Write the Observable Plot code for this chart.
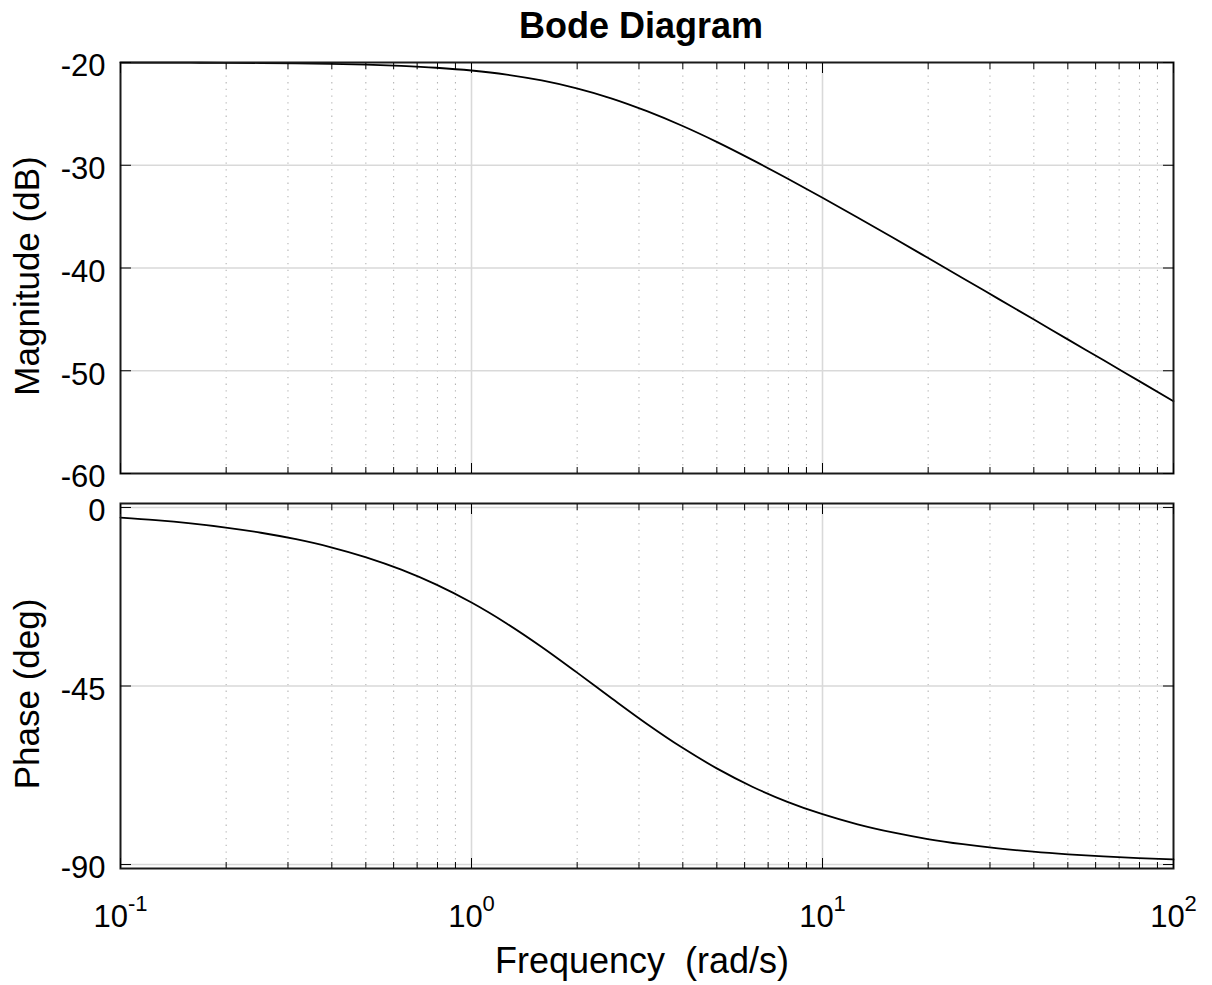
<!DOCTYPE html>
<html>
<head>
<meta charset="utf-8">
<script src="https://cdn.jsdelivr.net/npm/d3@7"></script>
<script src="https://cdn.jsdelivr.net/npm/@observablehq/plot@0.6"></script>
<style>
  html, body { margin: 0; padding: 0; background: #fff; }
  #chart { position: relative; width: 1212px; height: 985px; font-family: "Liberation Sans", Arial, sans-serif; }
  #chart svg { position: absolute; left: 0; overflow: visible; }
  #title { position: absolute; top: 8px; left: 441px; width: 400px; text-align: center;
           font-weight: bold; font-size: 36px; line-height: 36px; color: #000; }
  g[aria-label="y-axis label"] text { font-size: 35px; white-space: pre; }
  g[aria-label="x-axis label"] text { font-size: 36px; white-space: pre; }
</style>
</head>
<body>
<div id="chart">
  <div id="title">Bode Diagram</div>
</div>
<script>
// Frequency (rad/s) and the readings of both curves
const freq = [0.1, 0.1259, 0.1585, 0.1995, 0.2512, 0.3162, 0.3981, 0.5012, 0.631, 0.7943,
              1, 1.259, 1.585, 1.995, 2.512, 3.162, 3.981, 5.012, 6.31, 7.943,
              10, 12.59, 15.85, 19.95, 25.12, 31.62, 39.81, 50.12, 63.1, 79.43, 100];
const magnitudeDb = [-20.01, -20.01, -20.02, -20.03, -20.05, -20.08, -20.13, -20.21, -20.33, -20.51,
                     -20.78, -21.18, -21.75, -22.52, -23.51, -24.74, -26.16, -27.75, -29.48, -31.29,
                     -33.17, -35.09, -37.04, -39.01, -40.99, -42.98, -44.97, -46.97, -48.96, -50.96, -52.96];
const phaseDeg = [-2.55, -3.2, -4.03, -5.07, -6.37, -8.0, -10.03, -12.56, -15.67, -19.45,
                  -23.96, -29.23, -35.16, -41.57, -48.15, -54.57, -60.53, -65.82, -70.38, -74.19,
                  -77.32, -79.87, -81.92, -83.57, -84.88, -85.93, -86.77, -87.43, -87.96, -88.38, -88.71];

// Tick values
const decadeTicks = [0.1, 1, 10, 100];
const innerDecades = [1, 10];
const minorTicks = [0.2, 0.3, 0.4, 0.5, 0.6, 0.7, 0.8, 0.9, 2, 3, 4, 5, 6, 7, 8, 9, 20, 30, 40, 50, 60, 70, 80, 90];
const magTicks = [-60, -50, -40, -30, -20];
const magGrid = [-50, -40, -30];
const phaseTicks = [-90, -45, 0];

const data = freq.map((f, i) => ({f, mag: magnitudeDb[i], phase: phaseDeg[i]}));

const style = {fontFamily: "'Liberation Sans', Arial, sans-serif", fontSize: "31px", color: "#000", background: "transparent", overflow: "visible"};
const gridMinor = {stroke: "#b4b4b4", strokeOpacity: 1, strokeWidth: 1.1, strokeDasharray: "1.3,5.4"};
const gridMajor = {stroke: "#d9d9d9", strokeOpacity: 1, strokeWidth: 1.6};

function xTickMarks() {
  return [
    Plot.axisX({anchor: "bottom", ticks: decadeTicks, tickSize: -10, tickFormat: () => "", label: null}),
    Plot.axisX({anchor: "bottom", ticks: minorTicks, tickSize: -6, tickFormat: () => "", label: null}),
    Plot.axisX({anchor: "top", ticks: decadeTicks, tickSize: -10, tickFormat: () => "", label: null}),
    Plot.axisX({anchor: "top", ticks: minorTicks, tickSize: -6, tickFormat: () => "", label: null})
  ];
}

const magPlot = Plot.plot({
  width: 1212, height: 480,
  marginTop: 62, marginBottom: 7, marginLeft: 120, marginRight: 39,
  style,
  x: {type: "log", domain: [0.1, 100]},
  y: {domain: [-60, -20]},
  marks: [
    Plot.gridX(minorTicks, gridMinor),
    Plot.gridX(innerDecades, gridMajor),
    Plot.gridY(magGrid, gridMajor),
    Plot.line(data, {x: "f", y: "mag", stroke: "#000", strokeWidth: 1.8, curve: "monotone-x"}),
    Plot.frame({stroke: "#1a1a1a", strokeWidth: 2}),
    ...xTickMarks(),
    Plot.axisY({anchor: "left", ticks: magTicks, tickSize: -11, tickFormat: () => "", label: null}),
    Plot.axisY({anchor: "right", ticks: magTicks, tickSize: -11, tickFormat: () => "", label: null}),
    Plot.axisY({anchor: "left", ticks: magTicks, tickSize: 0, tickPadding: 15, dy: 4,
                tickFormat: d => String(d), label: "Magnitude (dB)", labelAnchor: "center",
                labelOffset: 106, labelArrow: "none"})
  ]
});
magPlot.style.top = "0px";

const phasePlot = Plot.plot({
  width: 1212, height: 505,
  marginTop: 23, marginBottom: 117, marginLeft: 120, marginRight: 39,
  style,
  x: {type: "log", domain: [0.1, 100]},
  y: {domain: [-91, 1]},
  marks: [
    Plot.gridX(minorTicks, gridMinor),
    Plot.gridX(innerDecades, gridMajor),
    Plot.gridY(phaseTicks, gridMajor),
    Plot.line(data, {x: "f", y: "phase", stroke: "#000", strokeWidth: 1.8, curve: "monotone-x"}),
    Plot.frame({stroke: "#1a1a1a", strokeWidth: 2}),
    ...xTickMarks(),
    Plot.axisY({anchor: "left", ticks: phaseTicks, tickSize: -11, tickFormat: () => "", label: null}),
    Plot.axisY({anchor: "right", ticks: phaseTicks, tickSize: -11, tickFormat: () => "", label: null}),
    Plot.axisY({anchor: "left", ticks: phaseTicks, tickSize: 0, tickPadding: 15, dy: 4,
                tickFormat: d => String(d), label: "Phase (deg)", labelAnchor: "center",
                labelOffset: 106, labelArrow: "none"}),
    Plot.axisX({anchor: "bottom", ticks: decadeTicks, tickSize: 0, tickPadding: 36,
                tickFormat: d => "10^" + Math.round(Math.log10(d)),
                label: "Frequency  (rad/s)", labelAnchor: "center", labelOffset: 104, labelArrow: "none"})
  ]
});
phasePlot.style.top = "480px";

// Write exponents of the decade labels as raised text
phasePlot.querySelectorAll('g[aria-label="x-axis tick label"] text').forEach(t => {
  const s = t.textContent;
  if (!s.includes("^")) return;
  const [base, exp] = s.split("^");
  t.textContent = base;
  const ts = document.createElementNS("http://www.w3.org/2000/svg", "tspan");
  ts.setAttribute("dy", "-16");
  ts.setAttribute("font-size", "22");
  ts.textContent = exp;
  t.appendChild(ts);
});
// Small nudges of the axis titles, as in the reference
[magPlot, phasePlot].forEach(svg => {
  svg.querySelectorAll('g[aria-label="y-axis label"] text').forEach(t => t.setAttribute("dx", "-8"));
});
phasePlot.querySelectorAll('g[aria-label="x-axis label"] text').forEach(t => t.setAttribute("dx", "-5"));

const chart = document.getElementById("chart");
chart.appendChild(magPlot);
chart.appendChild(phasePlot);
</script>
</body>
</html>
